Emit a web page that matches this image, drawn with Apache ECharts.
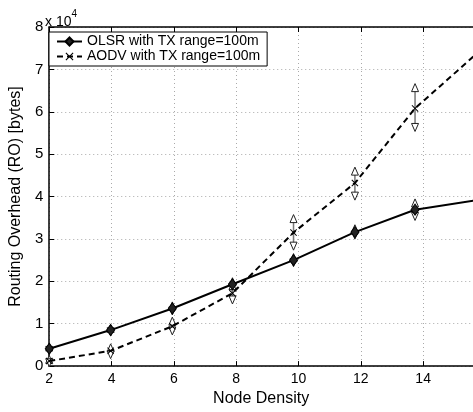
<!DOCTYPE html>
<html>
<head>
<meta charset="utf-8">
<script src="https://cdn.jsdelivr.net/npm/echarts@6/dist/echarts.min.js"></script>
<style>
html,body{margin:0;padding:0;background:#fff;}
#chart{width:473px;height:412px;}
</style>
</head>
<body>
<div id="chart"></div>
<script>
// Node density (x) values
const nodeDensity = [2, 3.97, 5.95, 7.88, 9.84, 11.81, 13.74, 15.7];
// Routing overhead in bytes
const olsrMean = [4100, 8500, 13600, 19300, 25000, 31600, 36900, 39100];
const olsrLow  = [3700, 8100, 13000, 18600, 24400, 30900, 35300];
const olsrHigh = [4500, 8900, 14200, 19900, 25600, 32400, 38500];
const aodvMean = [1200, 3600, 9400, 17200, 31500, 43200, 60800, 73600];
const aodvLow  = [800, 2700, 8300, 15600, 28300, 40100, 56300];
const aodvHigh = [1600, 4300, 10600, 19000, 34800, 46000, 65700];
const xTicks = [2, 4, 6, 8, 10, 12, 14];
const yTicks = [0, 1, 2, 3, 4, 5, 6, 7, 8];
const seriesNames = ['OLSR with TX range=100m', 'AODV with TX range=100m'];

const FONT = 'Liberation Sans, Arial, sans-serif';
const chart = echarts.init(document.getElementById('chart'), null, {renderer: 'canvas'});

function pairs(xs, ys) { return ys.map((y, i) => [xs[i], y]); }
function errData(xs, lo, hi) { return lo.map((l, i) => [xs[i], l, hi[i]]); }

function errRender(color) {
  return function (params, api) {
    const x = api.value(0);
    const p0 = api.coord([x, api.value(1)]);
    const p1 = api.coord([x, api.value(2)]);
    const w = 3.5, h = 4;
    return {
      type: 'group',
      children: [
        {type: 'line', shape: {x1: p0[0], y1: p0[1], x2: p1[0], y2: p1[1]},
         style: {stroke: color, lineWidth: 1.5}},
        {type: 'polygon', shape: {points: [[p1[0]-w, p1[1]+h], [p1[0]+w, p1[1]+h], [p1[0], p1[1]-h]]},
         style: {fill: '#fff', stroke: '#222', lineWidth: 1}},
        {type: 'polygon', shape: {points: [[p0[0]-w, p0[1]-h], [p0[0]+w, p0[1]-h], [p0[0], p0[1]+h]]},
         style: {fill: '#fff', stroke: '#222', lineWidth: 1}}
      ]
    };
  };
}

const xMin = xTicks[0], xMax = 15.6;
const gridLine = {show: true, lineStyle: {color: '#aaa', type: [1, 3], width: 1}};

const option = {
  backgroundColor: '#fff',
  animation: false,
  grid: {left: 44, right: 0, top: 27, bottom: 44},
  legend: {
    orient: 'vertical', left: 49, top: 32,
    data: seriesNames,
    backgroundColor: '#fff', borderColor: '#000', borderWidth: 1,
    padding: [2, 7, 2, 7], itemGap: 0, itemWidth: 25, itemHeight: 10,
    textStyle: {fontFamily: FONT, fontSize: 14, color: '#000', lineHeight: 15}
  },
  xAxis: [{
    type: 'value', min: xMin, max: xMax, interval: 2,
    name: 'Node Density', nameLocation: 'middle', nameGap: 21,
    nameTextStyle: {fontFamily: FONT, fontSize: 16, color: '#000'},
    axisLine: {show: true, lineStyle: {color: '#000', width: 1.5}},
    axisTick: {show: true, inside: true, length: 5, lineStyle: {color: '#000'}},
    axisLabel: {fontFamily: FONT, fontSize: 14, color: '#000', margin: 6, showMaxLabel: false,
      formatter: v => xTicks.includes(v) ? String(v) : ''},
    splitLine: gridLine
  }, {
    type: 'value', position: 'top', min: xMin, max: xMax, interval: 2,
    axisLine: {show: true, lineStyle: {color: '#000', width: 1.5}},
    axisTick: {show: true, inside: true, length: 5, lineStyle: {color: '#000'}},
    axisLabel: {show: false}, splitLine: {show: false}
  }],
  yAxis: [{
    type: 'value', min: 0, max: 80000, interval: 10000,
    name: 'Routing Overhead (RO) [bytes]', nameLocation: 'middle', nameGap: 21,
    nameTextStyle: {fontFamily: FONT, fontSize: 16, color: '#000'},
    axisLine: {show: true, lineStyle: {color: '#000', width: 1.5}},
    axisTick: {show: true, inside: true, length: 5, lineStyle: {color: '#000'}},
    axisLabel: {fontFamily: FONT, fontSize: 15, color: '#000', margin: 6,
      formatter: v => String(yTicks[Math.round(v / 10000)])},
    splitLine: gridLine
  }],
  graphic: [{
    type: 'text', left: 45, top: 9,
    style: {
      text: '{a|x 10}{b|4}',
      rich: {
        a: {fontFamily: FONT, fontSize: 14, fill: '#000', padding: [6, 0, 0, 0]},
        b: {fontFamily: FONT, fontSize: 10, fill: '#000', verticalAlign: 'top', padding: [0, 0, 8, 0]}
      }
    }
  }],
  series: [
    {
      type: 'custom', name: 'olsrErr', renderItem: errRender('#333'),
      data: errData(nodeDensity, olsrLow, olsrHigh), z: 2, silent: true,
      encode: {x: 0, y: [1, 2]}
    },
    {
      type: 'custom', name: 'aodvErr', renderItem: errRender('#777'),
      data: errData(nodeDensity, aodvLow, aodvHigh), z: 2, silent: true,
      encode: {x: 0, y: [1, 2]}
    },
    {
      type: 'line', name: seriesNames[0], data: pairs(nodeDensity, olsrMean), z: 3,
      symbol: 'diamond', symbolSize: [8, 11], showAllSymbol: true,
      lineStyle: {color: '#000', width: 2, type: 'solid'},
      itemStyle: {color: '#222', borderColor: '#000', borderWidth: 1}
    },
    {
      type: 'line', name: seriesNames[1], data: pairs(nodeDensity, aodvMean), z: 3,
      symbol: 'path://M0,1L1,0L5,4L9,0L10,1L6,5L10,9L9,10L5,6L1,10L0,9L4,5Z', symbolSize: 7,
      showAllSymbol: true,
      lineStyle: {color: '#000', width: 2, type: [6, 4]},
      itemStyle: {color: '#000'}
    }
  ]
};
chart.setOption(option);
</script>
</body>
</html>
